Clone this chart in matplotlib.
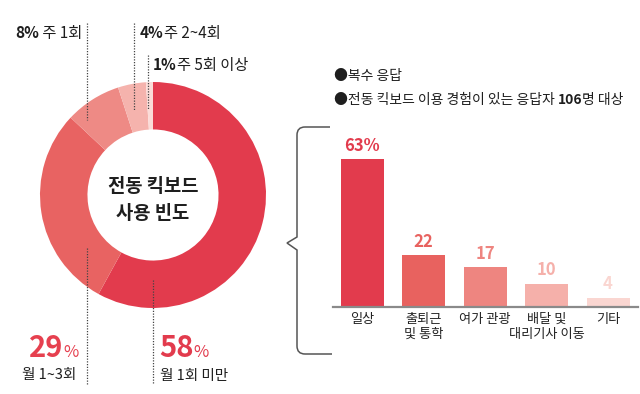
import matplotlib
matplotlib.use("Agg")
import matplotlib.pyplot as plt
from matplotlib.path import Path
from matplotlib.patches import PathPatch

plt.rcParams["font.family"] = ["Noto Sans CJK KR", "DejaVu Sans"]

# donut: usage frequency (%), clockwise from top
freq_labels = ["월 1회 미만", "월 1~3회", "주 1회", "주 2~4회", "주 5회 이상"]
freq_values = [58, 29, 8, 4, 1]
freq_colors = ["#e23b4d", "#e86362", "#ee8a85", "#f5b3ad", "#fbdcd8"]

# bars: purpose of use (%, multiple answers)
purpose_labels = ["일상", "출퇴근\n및 통학", "여가 관광", "배달 및\n대리기사 이동", "기타"]
purpose_values = [63, 22, 17, 10, 4]
purpose_colors = ["#e23b4d", "#e8625f", "#ee8580", "#f5b0aa", "#fad6d1"]
purpose_texts = ["63%", "22", "17", "10", "4"]

W, H = 640, 394
fig = plt.figure(figsize=(W / 100, H / 100), dpi=100)


def box(x0, y0, x1, y1):
    # pixel box (top-left origin) -> figure fraction
    return [x0 / W, 1 - y1 / H, (x1 - x0) / W, (y1 - y0) / H]


# donut
cx, cy, r = 153, 195, 113
pax = fig.add_axes(box(cx - r, cy - r, cx + r, cy + r))
pax.pie(freq_values, colors=freq_colors, startangle=90, counterclock=False,
        radius=1, wedgeprops=dict(width=0.42, edgecolor="none"))
pax.set_xlim(-1, 1)
pax.set_ylim(-1, 1)
pax.axis("off")

# bars
bx0, bx1, by0, by1 = 333, 638, 120, 307
bax = fig.add_axes(box(bx0, by0, bx1, by1))
step = 61.5
xs = list(range(len(purpose_values)))
bax.bar(xs, purpose_values, width=43 / step, color=purpose_colors)
bax.set_xlim((bx0 - 362) / step, (bx1 - 362) / step)
bax.set_ylim(0, 63 * (by1 - by0) / 148)
for s in ["top", "right", "left"]:
    bax.spines[s].set_visible(False)
bax.spines["bottom"].set_color("#8a8a8a")
bax.spines["bottom"].set_linewidth(1.6)
bax.set_yticks([])
bax.set_xticks(xs)
bax.set_xticklabels(purpose_labels, fontsize=9.5, color="#222222",
                    linespacing=1.25, va="top")
bax.tick_params(axis="x", length=0, pad=4)
for x, v, t, c in zip(xs, purpose_values, purpose_texts, purpose_colors):
    bax.annotate(t, (x, v), xytext=(0, 3), textcoords="offset points",
                 ha="center", va="bottom", fontsize=12,
                 fontweight="bold", color=c)

# overlay for text and guide lines
ax = fig.add_axes([0, 0, 1, 1])
ax.set_xlim(0, W)
ax.set_ylim(H, 0)
ax.axis("off")
ax.patch.set_alpha(0)

renderer = fig.canvas.get_renderer()


def pair(x, y, a, b, size_a, size_b, color_a, color_b, wa="bold", wb="normal"):
    t = ax.text(x, y, a, fontsize=size_a, fontweight=wa, color=color_a,
                ha="left", va="baseline")
    bb = t.get_window_extent(renderer=renderer)
    ax.text(x + bb.width, y, b, fontsize=size_b, fontweight=wb, color=color_b,
            ha="left", va="baseline")
    return x + bb.width


dark = "#1e1e1e"
pair(15, 38, "8%", " 주 1회", 11, 11, dark, dark)
pair(140, 38, "4%", "주 2~4회", 11, 11, dark, dark)
pair(153, 70, "1%", "주 5회 이상", 11, 11, dark, dark)

pair(29, 357, "29", "%", 21, 12, "#e6404f", "#e6404f")
pair(159, 357, "58", "%", 21, 12, "#e23b4d", "#e23b4d")
ax.text(22, 379, "월 1~3회", fontsize=10.5, color=dark, va="baseline")
ax.text(160, 380, "월 1회 미만", fontsize=10.5, color=dark, va="baseline")

# dotted guide lines
for x, y0, y1 in [(87, 23, 120), (134, 23, 110), (148, 55, 110),
                  (87, 248, 384), (153, 280, 384)]:
    ax.plot([x, x], [y0, y1], color="#444444", lw=0.9, ls=(0, (1, 1.2)))

# centre title
ax.text(cx, 186, "전동 킥보드", fontsize=13.5, fontweight="bold", color=dark,
        ha="center", va="center")
ax.text(cx, 213, "사용 빈도", fontsize=13.5, fontweight="bold", color=dark,
        ha="center", va="center")

# notes
ax.text(334, 80, "●복수 응답", fontsize=10, color=dark, va="baseline")
x_end = pair(334, 104, "●전동 킥보드 이용 경험이 있는 응답자 ", "", 10, 10,
             dark, dark, wa="normal")
pair(x_end, 104, "106", "명 대상", 10, 10, dark, dark)

# bracket
k = 8
verts = [(330, 127), (297 + k, 127), (297, 127), (297, 127 + k),
         (297, 237), (287, 243), (297, 250),
         (297, 354 - k), (297, 354), (297 + k, 354), (332, 354)]
codes = [Path.MOVETO, Path.LINETO, Path.CURVE3, Path.CURVE3,
         Path.LINETO, Path.LINETO, Path.LINETO,
         Path.LINETO, Path.CURVE3, Path.CURVE3, Path.LINETO]
ax.add_patch(PathPatch(Path(verts, codes), fill=False, edgecolor="#555555", lw=1.1))

fig.savefig("out.png", dpi=100)
